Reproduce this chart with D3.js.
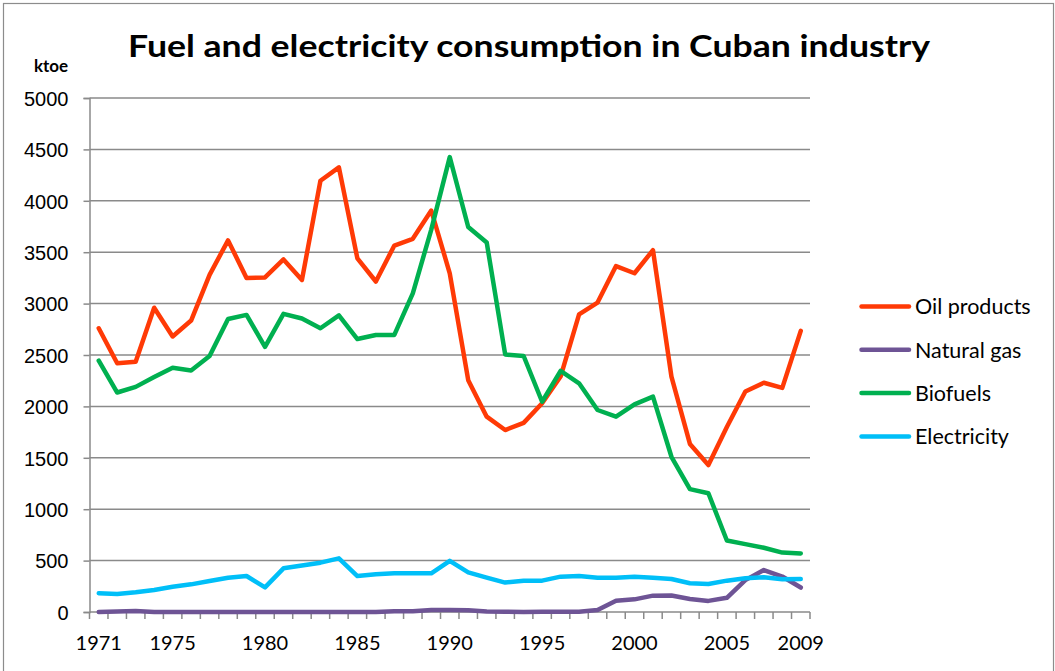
<!DOCTYPE html>
<meta charset="utf-8">
<title>Fuel and electricity consumption in Cuban industry</title>
<style>
body { margin: 0; background: #fff; }
svg { display: block; font-family: Lato, "Open Sans", sans-serif; }
.tick text { font-size: 20px; fill: #000; }
.legend text { font-size: 21.5px; fill: #000; }
</style>
<svg width="1055" height="671"></svg>
<script src="https://d3js.org/d3.v7.min.js"></script>
<script>

// data, ktoe
var years = d3.range(1971, 2010);
var yearLabels = [1971, 1975, 1980, 1985, 1990, 1995, 2000, 2005, 2009];
var yTicks = [0, 500, 1000, 1500, 2000, 2500, 3000, 3500, 4000, 4500, 5000];

var oilProducts = [2760, 2420, 2435, 2960, 2680, 2835, 3280, 3615, 3250, 3255,
  3430, 3230, 4195, 4325, 3440, 3215, 3565, 3630, 3905, 3295,
  2255, 1900, 1770, 1840, 2030, 2290, 2895, 3010, 3365, 3295,
  3520, 2290, 1635, 1430, 1800, 2145, 2230, 2180, 2735];
var naturalGas = [0, 5, 10, 0, 0, 0, 0, 0, 0, 0,
  0, 0, 0, 0, 0, 0, 8, 8, 20, 20,
  18, 5, 3, 0, 2, 3, 3, 20, 110, 123,
  159, 160, 127, 108, 138, 310, 408, 345, 238];
var biofuels = [2445, 2135, 2190, 2285, 2375, 2350, 2490, 2850, 2890, 2580,
  2900, 2855, 2760, 2885, 2655, 2695, 2695, 3100, 3720, 4425,
  3745, 3595, 2505, 2490, 2045, 2345, 2225, 1965, 1900, 2020,
  2095, 1510, 1195, 1155, 695, 660, 625, 578, 570];
var electricity = [182, 176, 192, 214, 246, 269, 302, 334, 350, 240,
  425, 452, 480, 522, 350, 367, 376, 376, 376, 498,
  386, 334, 286, 305, 305, 344, 350, 334, 334, 344,
  334, 321, 280, 272, 305, 328, 337, 318, 321];

var seriesNames = ["Oil products", "Natural gas", "Biofuels", "Electricity"];
var seriesValues = [oilProducts, naturalGas, biofuels, electricity];
var seriesColors = ["#ff3a06", "#6e5495", "#00b050", "#00bff8"];

var svg = d3.select("svg");

// chart frame
svg.append("rect")
    .attr("x", 3.5).attr("y", 3.5)
    .attr("width", 1050).attr("height", 670)
    .attr("fill", "none")
    .attr("stroke", "#8c8c8c")
    .attr("stroke-width", 1.2);

var plotLeft = 89.5, plotRight = 810, plotTop = 98, plotBottom = 612;

var x = d3.scaleBand().domain(years).range([plotLeft, plotRight]);
var y = d3.scaleLinear().domain([0, 5000]).range([plotBottom, plotTop]);

// grid lines
svg.append("g")
  .selectAll("line")
  .data(yTicks.filter(function(d) { return d > 0; }))
  .enter().append("line")
    .attr("x1", plotLeft).attr("x2", plotRight)
    .attr("y1", function(d) { return y(d); })
    .attr("y2", function(d) { return y(d); })
    .attr("stroke", "#8a8a8a")
    .attr("stroke-width", 1.5);

// y axis
var yAxis = svg.append("g")
    .attr("transform", "translate(" + plotLeft + ",0)")
    .call(d3.axisLeft(y).tickValues(yTicks).tickSize(6).tickPadding(15).tickFormat(d3.format("d")));
yAxis.select(".domain").attr("stroke", "#8a8a8a").attr("stroke-width", 1.5);
yAxis.selectAll(".tick line").attr("stroke", "#8a8a8a").attr("stroke-width", 1.5);
yAxis.selectAll(".tick text").attr("dy", "0.36em");

// x axis: ticks between categories, labels under some years
var xAxis = svg.append("g").attr("transform", "translate(0," + plotBottom + ")");
xAxis.append("line")
    .attr("x1", plotLeft).attr("x2", plotRight)
    .attr("stroke", "#8a8a8a").attr("stroke-width", 1.5);
xAxis.selectAll(".xt")
  .data(years.concat([2010]))
  .enter().append("line")
    .attr("class", "xt")
    .attr("x1", function(d) { return d === 2010 ? plotRight : x(d); })
    .attr("x2", function(d) { return d === 2010 ? plotRight : x(d); })
    .attr("y1", 0).attr("y2", 7)
    .attr("stroke", "#8a8a8a").attr("stroke-width", 1.5);
xAxis.selectAll(".tick")
  .data(yearLabels)
  .enter().append("g")
    .attr("class", "tick")
  .append("text")
    .attr("x", function(d) { return x(d) + x.bandwidth() / 2; })
    .attr("y", 38)
    .attr("text-anchor", "middle")
    .text(function(d) { return d; });

// lines
var line = d3.line()
    .x(function(d, i) { return x(years[i]) + x.bandwidth() / 2; })
    .y(function(d) { return y(d); });

svg.append("g")
  .selectAll("path")
  .data(seriesValues)
  .enter().append("path")
    .attr("d", line)
    .attr("fill", "none")
    .attr("stroke", function(d, i) { return seriesColors[i]; })
    .attr("stroke-width", 4.5)
    .attr("stroke-linejoin", "round")
    .attr("stroke-linecap", "round");

// title and unit
svg.append("text")
    .attr("x", 529).attr("y", 57)
    .attr("text-anchor", "middle")
    .attr("font-size", 30)
    .attr("font-weight", "bold")
    .attr("textLength", 802)
    .attr("lengthAdjust", "spacingAndGlyphs")
    .text("Fuel and electricity consumption in Cuban industry");

svg.append("text")
    .attr("x", 51).attr("y", 72)
    .attr("text-anchor", "middle")
    .attr("font-size", 17)
    .attr("font-weight", "bold")
    .text("ktoe");

// legend
var legend = svg.append("g").attr("class", "legend")
  .selectAll("g")
  .data(seriesNames)
  .enter().append("g")
    .attr("transform", function(d, i) { return "translate(860," + (306.5 + i * 43.3) + ")"; });
legend.append("line")
    .attr("x1", 1.5).attr("x2", 49)
    .attr("stroke", function(d, i) { return seriesColors[i]; })
    .attr("stroke-width", 4.5)
    .attr("stroke-linecap", "round");
legend.append("text")
    .attr("x", 55).attr("dy", "0.36em")
    .text(function(d) { return d; });

</script>
